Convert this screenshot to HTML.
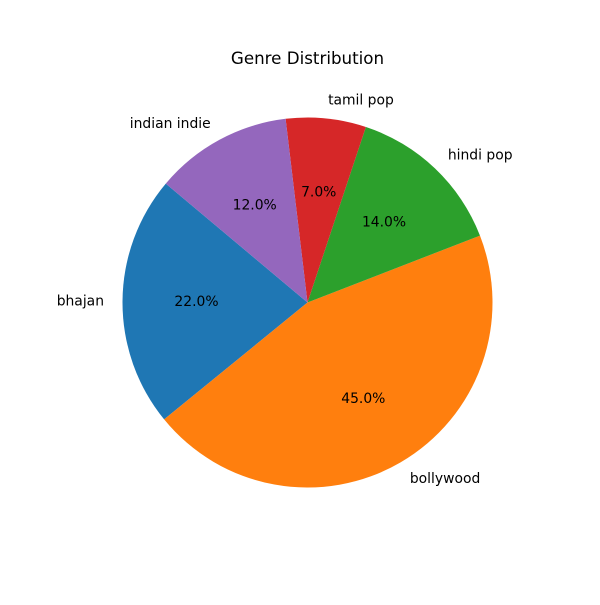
<!DOCTYPE html>
<html><head><meta charset="utf-8"><style>
body{margin:0;background:#fff}
svg text{font-family:"DejaVu Sans","Liberation Sans",sans-serif}
</style></head><body>
<svg id="chart" width="600" height="600">
<text x="307.5" y="64" text-anchor="middle" font-size="16.7">Genre Distribution</text>
</svg>
<script>
const categories = ["bhajan","bollywood","hindi pop","tamil pop","indian indie"];
const values = [22, 45, 14, 7, 12];
const colors = ["#1f77b4","#ff7f0e","#2ca02c","#d62728","#9467bd"];
const cx=307.5, cy=302.5, R=185, startAngle=140;
const svg=document.getElementById('chart');
const NS='http://www.w3.org/2000/svg';
const total=values.reduce((a,b)=>a+b,0);
function pt(deg,r){const a=deg*Math.PI/180;return [cx+r*Math.cos(a), cy-r*Math.sin(a)];}
let ang=startAngle;
values.forEach((v,i)=>{
  const span=v/total*360, a0=ang, a1=ang+span;
  const p0=pt(a0,R), p1=pt(a1,R);
  const path=document.createElementNS(NS,'path');
  path.setAttribute('d',`M${cx},${cy} L${p0[0]},${p0[1]} A${R},${R} 0 ${span>180?1:0} 0 ${p1[0]},${p1[1]} Z`);
  path.setAttribute('fill',colors[i]);
  
  
  svg.appendChild(path);
  const mid=(a0+a1)/2;
  const lp=pt(mid,R*1.1);
  const lab=document.createElementNS(NS,'text');
  const c=Math.cos(mid*Math.PI/180);
  lab.setAttribute('x',lp[0]); lab.setAttribute('y',lp[1]+4.5);
  lab.setAttribute('text-anchor', c<0?'end':'start');
  lab.setAttribute('font-size','13.9');
  lab.textContent=categories[i];
  
  
  svg.appendChild(lab);
  const pp=pt(mid,R*0.6);
  const pct=document.createElementNS(NS,'text');
  pct.setAttribute('x',pp[0]); pct.setAttribute('y',pp[1]+4.5);
  pct.setAttribute('text-anchor','middle');
  pct.setAttribute('font-size','13.9');
  pct.textContent=(v/total*100).toFixed(1)+'%';
  
  
  svg.appendChild(pct);
  ang=a1;
});
</script>
</body></html>
